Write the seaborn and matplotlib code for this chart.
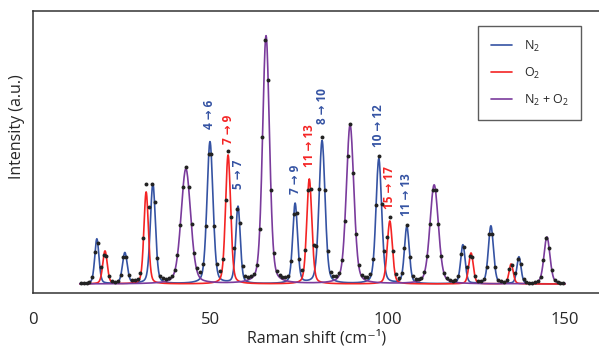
import matplotlib
matplotlib.use("Agg")
import matplotlib.pyplot as plt
import matplotlib.ticker as ticker
import numpy as np
import pandas as pd
import seaborn as sns

# peak positions (cm-1), heights (a.u.), widths (FWHM, cm-1) and species
peak_pos = [18.0, 20.3, 25.9, 31.9, 33.8, 43.1, 49.9, 55.0, 57.8, 65.7,
            73.9, 77.9, 81.5, 89.4, 97.5, 100.6, 105.4, 113.1, 121.2,
            123.5, 129.1, 134.8, 137.0, 144.9]
peak_height = [45, 33, 31, 92, 100, 115, 142, 129, 77, 248,
               80, 105, 143, 159, 125, 63, 57, 99, 39,
               31, 58, 20, 27, 47]
peak_width = [1.4, 1.5, 1.6, 1.5, 1.7, 3.2, 2.0, 1.7, 1.5, 2.3,
              1.6, 1.7, 2.0, 2.5, 1.9, 1.7, 1.6, 2.8, 1.5,
              1.5, 1.7, 1.4, 1.4, 2.0]
peak_species = ["N2", "O2", "N2", "O2", "N2", "N2+O2", "N2", "O2", "N2", "N2+O2",
                "N2", "O2", "N2", "N2+O2", "N2", "O2", "N2", "N2+O2", "N2",
                "O2", "N2", "O2", "N2", "N2+O2"]

# transition labels: (peak position, label bottom height, text, species)
label_pos = [49.9, 55.0, 57.8, 73.9, 77.9, 81.5, 97.5, 100.6, 105.4]
label_y = [155, 140, 95, 90, 117, 160, 137, 75, 68]
label_text = ["4 → 6", "7 → 9", "5 → 7", "7 → 9", "11 → 13", "8 → 10",
              "10 → 12", "15 → 17", "11 → 13"]
label_species = ["N2", "O2", "N2", "N2", "O2", "N2", "N2", "O2", "N2"]

spectrum_start, spectrum_end = 13.2, 150.0

colors = {"N2": "#3553a3", "O2": "#f42424", "N2+O2": "#7a3b9c"}
legend_names = {"N2": "N$_2$", "O2": "O$_2$", "N2+O2": "N$_2$ + O$_2$"}
lorentz_fraction = 0.3


def peak_shape(x, x0, h, w):
    # pseudo-Voigt line shape
    lor = 1 / (1 + ((x - x0) / (w / 2)) ** 2)
    gau = np.exp(-np.log(2) * ((x - x0) / (w / 2)) ** 2)
    return h * (lorentz_fraction * lor + (1 - lorentz_fraction) * gau)


def main():
    sns.set_style("white")
    plt.rcParams["font.family"] = ["Open Sans", "DejaVu Sans"]
    plt.rcParams["mathtext.fontset"] = "custom"
    plt.rcParams["mathtext.rm"] = "Open Sans"
    plt.rcParams["mathtext.it"] = "Open Sans"

    fig = plt.figure(figsize=(5.99, 3.5), dpi=100)
    ax = fig.add_axes([33 / 599, 57 / 350, 567.5 / 599, 282 / 350])

    x = np.arange(spectrum_start, spectrum_end + 0.01, 0.1)
    rows = []
    for sp in ["N2", "O2", "N2+O2"]:
        y = np.zeros_like(x)
        for p, h, w, s in zip(peak_pos, peak_height, peak_width, peak_species):
            if s == sp:
                y += peak_shape(x, p, h, w)
        rows.append(pd.DataFrame({"shift": x, "intensity": y,
                                  "species": legend_names[sp]}))
    curves = pd.concat(rows, ignore_index=True)

    sns.lineplot(data=curves, x="shift", y="intensity", hue="species",
                 palette={legend_names[k]: v for k, v in colors.items()},
                 linewidth=1.2, ax=ax, sort=False, estimator=None)

    # measured points = sum of all fitted components
    xd = np.arange(spectrum_start + 0.3, spectrum_end, 0.8)
    yd = np.zeros_like(xd)
    for p, h, w in zip(peak_pos, peak_height, peak_width):
        yd += peak_shape(xd, p, h, w)
    sns.scatterplot(x=xd, y=yd, color="#222222", s=8, linewidth=0,
                    ax=ax, zorder=5)

    for px, py, t, s in zip(label_pos, label_y, label_text, label_species):
        ax.text(px, py, t, rotation=90, ha="center", va="bottom",
                color=colors[s], fontsize=8.5, fontweight="bold")

    ax.set_xlim(0, 160)
    ax.set_ylim(-9, 273)
    ax.xaxis.set_major_locator(ticker.MultipleLocator(50))
    ax.xaxis.set_minor_locator(ticker.MultipleLocator(10))
    ax.tick_params(axis="x", which="major", direction="in", length=5,
                   width=1, labelsize=12, pad=14, color="#333333")
    ax.tick_params(axis="x", which="minor", direction="in", length=3,
                   width=1, color="#333333")
    ax.set_yticks([])
    for sp in ax.spines.values():
        sp.set_color("#333333")
        sp.set_linewidth(1.1)
    ax.set_xlabel("Raman shift (cm⁻¹)", fontsize=11.5, labelpad=1)
    ax.set_ylabel("Intensity (a.u.)", fontsize=11.5)
    ax.yaxis.set_label_coords(-0.014, 0.59)

    leg = ax.legend(loc="upper left", bbox_to_anchor=(478 / 599, 1 - 26 / 350),
                    bbox_transform=fig.transFigure, fontsize=9,
                    frameon=True, fancybox=False, handlelength=1.75,
                    labelspacing=0.95, borderpad=1.0, handletextpad=0.9,
                    borderaxespad=0)
    leg.get_frame().set_edgecolor("#333333")
    leg.get_frame().set_linewidth(1.0)
    for line in leg.get_lines():
        line.set_linewidth(1.2)

    fig.savefig("out.png", dpi=100)


if __name__ == "__main__":
    main()
